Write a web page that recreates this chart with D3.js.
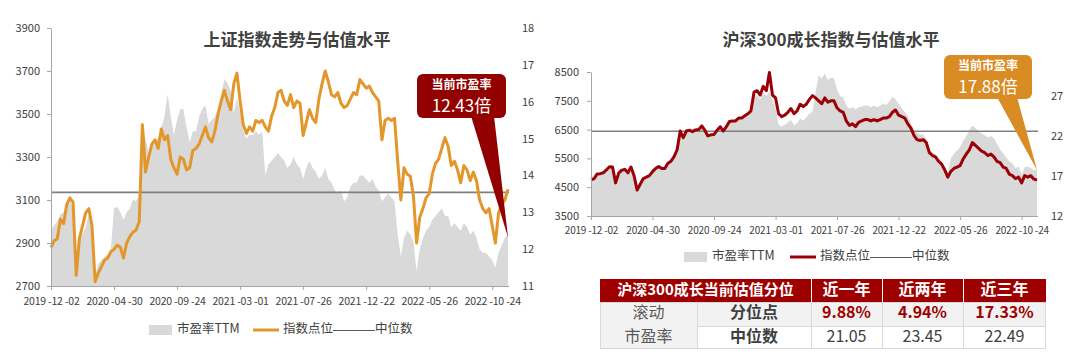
<!DOCTYPE html>
<html>
<head>
<meta charset="utf-8">
<script src="https://cdn.jsdelivr.net/npm/d3@7"></script>
<style>
  body { margin: 0; background: #fff; }
  svg { display: block; font-family: "Microsoft YaHei", "Noto Sans CJK SC", sans-serif; }
</style>
</head>
<body>
<svg id="chart" width="1080" height="362"></svg>
<script>
//x axis tick labels (one every 20 samples, ~100 trading days)
const tickLabels = ["2019 -12 -02", "2020 -04 -30", "2020 -09 -24", "2021 -03 -01",
  "2021 -07 -26", "2021 -12 -22", "2022 -05 -26", "2022 -10 -24"];
const tickStep = 20;

//上证指数 (weekly samples)
const shIndex = [2880,2910,2920,3010,2990,3080,3110,3090,2750,2920,
  2980,3040,3060,2980,2720,2760,2790,2820,2830,2860,
  2870,2890,2880,2830,2900,2930,2950,2960,3000,3450,
  3230,3300,3360,3380,3340,3430,3380,3400,3290,3250,
  3220,3300,3290,3240,3250,3330,3340,3360,3400,3440,
  3390,3370,3420,3500,3560,3610,3560,3520,3640,3690,
  3560,3450,3410,3440,3420,3470,3460,3470,3440,3420,
  3490,3530,3600,3610,3560,3540,3590,3530,3560,3550,
  3400,3460,3520,3480,3460,3570,3640,3700,3650,3590,
  3580,3600,3550,3530,3540,3570,3600,3590,3660,3640,
  3620,3630,3600,3580,3560,3380,3470,3480,3470,3480,
  3280,3100,3250,3220,3210,3120,2900,3020,3060,3110,
  3130,3220,3270,3290,3340,3390,3350,3260,3280,3240,
  3180,3260,3240,3190,3230,3190,3100,3060,3040,3060,
  2980,2900,3040,3080,3100,3150];
//上证指数 市盈率TTM
const shPE = [12.5,12.65,12.75,12.95,13.0,13.25,13.4,13.0,11.5,12.3,
  12.4,12.6,12.95,12.55,11.3,11.6,11.7,11.8,11.85,12.0,
  13.1,13.15,13.0,12.8,13.0,13.1,13.35,13.3,13.5,15.3,
  15.0,14.6,14.8,14.9,15.0,15.3,15.6,16.2,15.6,15.1,
  15.5,15.8,15.8,15.3,14.9,15.2,15.2,15.6,15.8,15.9,
  15.4,15.5,15.6,15.8,16.2,16.6,16.5,16.3,15.7,16.1,
  15.7,15.2,15.0,15.1,15.1,15.2,15.1,15.2,14.0,14.3,
  14.4,14.5,14.6,14.5,14.4,14.2,14.3,14.5,14.3,14.2,
  13.9,14.2,14.4,14.2,14.1,13.9,14.0,14.2,13.9,13.8,
  13.6,13.5,13.6,13.3,13.4,13.7,13.8,13.8,14.0,14.0,
  13.9,13.8,13.9,13.7,13.6,13.3,13.4,13.5,13.4,13.3,
  12.4,11.8,12.3,12.5,12.4,12.2,11.4,12.0,12.3,12.5,
  12.6,12.8,12.9,13.0,13.1,12.9,12.9,12.6,12.7,12.6,
  12.5,12.7,12.6,12.4,12.5,12.3,12.0,11.9,11.9,11.8,
  11.7,11.5,11.9,12.1,12.3,12.43];
const shMedianPE = 13.54;

//沪深300成长 index
const szIndex = [4755,4800,4960,4970,5000,5100,5210,5200,4650,4990,
  5090,5120,5000,5200,4900,4400,4600,4800,4850,4900,
  5040,5150,5220,5150,5150,5330,5400,5560,5800,6450,
  6220,6450,6480,6430,6490,6500,6630,6480,6280,6320,
  6330,6480,6600,6450,6600,6780,6800,6800,6900,6900,
  6980,7050,7150,7800,7850,7700,8000,7850,8480,7700,
  7600,7050,6950,7000,7100,7230,7050,7150,7380,7300,
  7380,7550,7680,7600,7500,7400,7600,7450,7500,7500,
  7250,7150,7100,6800,6650,6700,6600,6750,6800,6850,
  6850,6800,6850,6800,6850,6900,6900,6950,7100,7180,
  7000,6950,6900,6700,6550,6300,6150,6120,6150,6050,
  5700,5600,5550,5400,5300,5100,4850,5050,5150,5200,
  5250,5480,5650,5800,6050,5950,5850,5750,5700,5600,
  5650,5550,5400,5350,5200,5150,4950,4900,4800,4850,
  4650,4900,4850,4900,4780,4750];
//沪深300成长 市盈率TTM
const szPE = [16.7,16.8,17.2,17.3,17.4,17.8,18.1,18.1,16.3,17.3,
  17.7,17.8,17.4,18.0,17.0,15.4,16.0,16.6,16.9,17.1,
  17.5,17.9,18.1,17.9,17.9,18.5,18.8,19.4,20.2,22.5,
  21.7,22.5,22.6,22.4,22.7,22.7,23.2,22.7,22.0,22.1,
  22.1,22.6,23.1,22.5,23.1,23.7,23.8,23.8,24.2,24.2,
  24.5,24.8,25.1,26.8,27.1,26.6,27.4,27.0,27.6,26.5,
  25.5,23.4,23.2,23.4,23.7,24.0,23.3,23.6,24.2,23.9,
  24.3,24.8,25.0,27.5,29.6,29.2,29.8,29.0,29.3,29.2,
  27.8,27.0,26.8,25.8,25.4,25.6,25.3,25.6,25.7,25.8,
  25.8,25.6,25.8,25.6,25.8,26.0,25.9,26.3,26.9,26.6,
  26.0,25.5,25.0,24.5,23.6,22.8,22.4,22.2,22.2,21.6,
  20.3,20.0,19.7,19.2,18.8,18.2,17.4,19.2,19.8,20.2,
  20.6,21.4,22.0,22.7,23.3,23.0,22.6,22.3,22.1,21.8,
  22.0,21.7,21.0,20.3,19.8,19.3,18.8,18.6,18.0,18.2,
  17.2,18.1,18.2,18.0,17.7,17.88];
const szMedianPE = 22.6;

//table
const tableHeader = ["沪深300成长当前估值分位", "近一年", "近两年", "近三年"];
const tableGroup = ["滚动", "市盈率"];
const tableRowLabels = ["分位点", "中位数"];
const pctValues = ["9.88%", "4.94%", "17.33%"];
const medianValues = ["21.05", "23.45", "22.49"];

const svg = d3.select("#chart");
const textColor = "#404040";
const fontStack = "\"Microsoft YaHei\", \"Noto Sans CJK SC\", sans-serif";

const drawChart = (cfg) => {
  const n = cfg.index.length;
  const x = d3.scaleLinear().domain([0, n - 1]).range([cfg.x0, cfg.x1]);
  const yL = d3.scaleLinear().domain(cfg.leftDomain).range([cfg.yBottom, cfg.yTop]);
  const yR = d3.scaleLinear().domain(cfg.rightDomain).range([cfg.yBottom, cfg.yTop]);
  const g = svg.append("g");

  //PE area
  const area = d3.area()
    .x((d, i) => x(i))
    .y0(yR(cfg.rightDomain[0]))
    .y1((d) => yR(d));
  g.append("path").datum(cfg.pe).attr("d", area).attr("fill", "#d9d9d9");

  //median line
  g.append("line")
    .attr("x1", cfg.x0).attr("x2", cfg.x1 + 1)
    .attr("y1", yR(cfg.median)).attr("y2", yR(cfg.median))
    .attr("stroke", "#808080").attr("stroke-width", 1.6);

  //index line
  const line = d3.line().x((d, i) => x(i)).y((d) => yL(d));
  g.append("path").datum(cfg.index).attr("d", line)
    .attr("fill", "none").attr("stroke", cfg.lineColor)
    .attr("stroke-width", 3).attr("stroke-linejoin", "round");

  //axes
  const styleAxis = (sel, size) => {
    sel.selectAll("path.domain").attr("stroke", "#a6a6a6");
    sel.selectAll(".tick line").attr("stroke", "#a6a6a6");
    sel.selectAll("text").attr("fill", textColor).style("font-size", size || "11px")
      .style("font-family", fontStack);
  };
  const leftAxis = d3.axisLeft(yL).tickValues(cfg.leftTicks).tickFormat(d3.format("d"))
    .tickSize(4).tickSizeOuter(0).tickPadding(cfg.leftPad);
  g.append("g").attr("transform", `translate(${cfg.x0},0)`).call(leftAxis).call(styleAxis);

  const rightAxis = d3.axisRight(yR).tickValues(cfg.rightTicks).tickFormat(d3.format("d"))
    .tickSize(0).tickPadding(0);
  g.append("g").attr("transform", `translate(${cfg.rightLabelX},0)`).call(rightAxis)
    .call(styleAxis).call((s) => s.select("path.domain").remove());

  const xTicks = tickLabels.map((d, i) => i * tickStep);
  const bottomAxis = d3.axisBottom(x).tickValues(xTicks)
    .tickFormat((d, i) => tickLabels[i]).tickSize(4).tickSizeOuter(0).tickPadding(cfg.bottomPad);
  g.append("g").attr("transform", `translate(0,${cfg.yBottom})`).call(bottomAxis)
    .call((s) => styleAxis(s, cfg.xFont))
    .call((s) => s.selectAll("text").style("letter-spacing", "-0.2px").style("white-space", "pre"))
    .call((s) => s.select("path.domain").attr("d", `M${cfg.x0 + 0.5},0.5H${cfg.x1 + 1}`));

  //title
  g.append("text").attr("x", cfg.titleX).attr("y", cfg.titleY)
    .attr("text-anchor", "middle").attr("dominant-baseline", "middle")
    .attr("fill", textColor).style("font-size", "17px").style("font-weight", "bold")
    .text(cfg.title);

  //callout
  const c = cfg.callout;
  const last = n - 1;
  g.append("polygon")
    .attr("points", `${c.baseL},${c.y + c.h - 2} ${c.baseR},${c.y + c.h - 2} ${x(last)},${yR(cfg.pe[last]) + c.tipDy}`)
    .attr("fill", c.color);
  g.append("rect").attr("x", c.x).attr("y", c.y).attr("width", c.w).attr("height", c.h)
    .attr("rx", 6).attr("fill", c.color);
  g.append("text").attr("x", c.x + c.w / 2).attr("y", c.y + 12)
    .attr("text-anchor", "middle").attr("dominant-baseline", "middle")
    .attr("fill", "#fff").style("font-size", "12px").style("font-weight", "bold")
    .text("当前市盈率");
  g.append("text").attr("x", c.x + c.w / 2).attr("y", c.y + 33)
    .attr("text-anchor", "middle").attr("dominant-baseline", "middle")
    .attr("fill", "#fff").style("font-size", "17px")
    .text(`${cfg.pe[last].toFixed(2)}倍`);

  //legend
  const L = cfg.legend;
  const lg = g.append("g").attr("transform", `translate(${L.x},${L.y})`)
    .style("font-size", "12.5px").attr("fill", textColor);
  lg.append("rect").attr("x", 0).attr("y", -5).attr("width", 23).attr("height", 10).attr("fill", "#d9d9d9");
  lg.append("text").attr("x", 28).attr("y", 0).attr("dominant-baseline", "middle").text("市盈率TTM");
  lg.append("line").attr("x1", L.lineX).attr("x2", L.lineX + 26).attr("y1", 0).attr("y2", 0)
    .attr("stroke", cfg.lineColor).attr("stroke-width", 3);
  lg.append("text").attr("x", L.lineX + 30).attr("y", 0).attr("dominant-baseline", "middle").text("指数点位");
  lg.append("line").attr("x1", L.lineX + 80).attr("x2", L.lineX + 122).attr("y1", 0.5).attr("y2", 0.5)
    .attr("stroke", "#595959").attr("stroke-width", 1);
  lg.append("text").attr("x", L.lineX + 122).attr("y", 0).attr("dominant-baseline", "middle").text("中位数");
};

drawChart({
  index: shIndex, pe: shPE, median: shMedianPE,
  x0: 51, x1: 508, yTop: 28, yBottom: 286,
  leftDomain: [2700, 3900], leftTicks: [2700, 2900, 3100, 3300, 3500, 3700, 3900], leftPad: 7,
  rightDomain: [11, 18], rightTicks: [11, 12, 13, 14, 15, 16, 17, 18], rightLabelX: 522,
  bottomPad: 8, xFont: "10.5px", lineColor: "#e3962a",
  title: "上证指数走势与估值水平", titleX: 297, titleY: 41,
  callout: { x: 417, y: 74, w: 89, h: 44, color: "#930000", baseL: 471, baseR: 494, tipDy: 4 },
  legend: { x: 149, y: 330, lineX: 104 },
});

drawChart({
  index: szIndex, pe: szPE, median: szMedianPE,
  x0: 591, x1: 1037, yTop: 72, yBottom: 216,
  leftDomain: [3500, 8500], leftTicks: [3500, 4500, 5500, 6500, 7500, 8500], leftPad: 8,
  rightDomain: [12, 30], rightTicks: [12, 17, 22, 27], rightLabelX: 1051,
  bottomPad: 7, xFont: "10px", lineColor: "#9c0006",
  title: "沪深300成长指数与估值水平", titleX: 831, titleY: 41,
  callout: { x: 944, y: 55, w: 88, h: 44, color: "#d98c24", baseL: 997, baseR: 1017, tipDy: 1 },
  legend: { x: 684, y: 257, lineX: 106 },
});

//table
const colX = [600, 697, 811, 882, 963, 1046];
const rowY = [279, 302, 326, 349];
const tg = svg.append("g");
//header
tg.append("rect").attr("x", colX[0]).attr("y", rowY[0]).attr("width", colX[5] - colX[0])
  .attr("height", rowY[1] - rowY[0]).attr("fill", "#9e0000");
const headerSpans = [[colX[0], colX[2]], [colX[2], colX[3]], [colX[3], colX[4]], [colX[4], colX[5]]];
tableHeader.forEach((h, i) => {
  const [a, b] = headerSpans[i];
  if (i > 0) {
    tg.append("line").attr("x1", a + 0.5).attr("x2", a + 0.5).attr("y1", rowY[0]).attr("y2", rowY[1])
      .attr("stroke", "#fff").attr("stroke-width", 1);
  }
  tg.append("text").attr("x", (a + b) / 2).attr("y", (rowY[0] + rowY[1]) / 2)
    .attr("text-anchor", "middle").attr("dominant-baseline", "middle")
    .attr("fill", "#fff").style("font-size", i === 0 ? "15px" : "16px").style("font-weight", "bold")
    .text(h);
});
//body backgrounds
tg.append("rect").attr("x", colX[0]).attr("y", rowY[1]).attr("width", colX[5] - colX[0])
  .attr("height", rowY[3] - rowY[1]).attr("fill", "#fff");
tg.append("rect").attr("x", colX[0]).attr("y", rowY[1]).attr("width", colX[1] - colX[0])
  .attr("height", rowY[3] - rowY[1]).attr("fill", "#f2f2f2");
tg.append("rect").attr("x", colX[1]).attr("y", rowY[1]).attr("width", colX[5] - colX[1])
  .attr("height", rowY[2] - rowY[1]).attr("fill", "#f2f2f2");
//body grid
const gridColor = "#d9d9d9";
tg.append("rect").attr("x", colX[0] + 0.5).attr("y", rowY[1] + 0.5).attr("width", colX[5] - colX[0] - 1)
  .attr("height", rowY[3] - rowY[1] - 1).attr("fill", "none").attr("stroke", gridColor);
colX.slice(1, 5).forEach((cx) => {
  tg.append("line").attr("x1", cx + 0.5).attr("x2", cx + 0.5).attr("y1", rowY[1]).attr("y2", rowY[3])
    .attr("stroke", gridColor);
});
tg.append("line").attr("x1", colX[1]).attr("x2", colX[5]).attr("y1", rowY[2] + 0.5).attr("y2", rowY[2] + 0.5)
  .attr("stroke", gridColor);
//group label
tableGroup.forEach((t, i) => {
  tg.append("text").attr("x", (colX[0] + colX[1]) / 2).attr("y", (rowY[i + 1] + rowY[i + 2]) / 2)
    .attr("text-anchor", "middle").attr("dominant-baseline", "middle")
    .attr("fill", "#595959").style("font-size", "16px").text(t);
});
//row labels and values
const rows = [pctValues, medianValues];
tableRowLabels.forEach((t, r) => {
  const cy = (rowY[r + 1] + rowY[r + 2]) / 2;
  tg.append("text").attr("x", (colX[1] + colX[2]) / 2).attr("y", cy)
    .attr("text-anchor", "middle").attr("dominant-baseline", "middle")
    .attr("fill", textColor).style("font-size", "16px").style("font-weight", "bold").text(t);
  rows[r].forEach((v, j) => {
    tg.append("text").attr("x", (colX[j + 2] + colX[j + 3]) / 2).attr("y", cy)
      .attr("text-anchor", "middle").attr("dominant-baseline", "middle")
      .attr("fill", r === 0 ? "#a00000" : textColor)
      .style("font-size", "16px").style("font-weight", r === 0 ? "bold" : "normal").text(v);
  });
});
</script>
</body>
</html>
